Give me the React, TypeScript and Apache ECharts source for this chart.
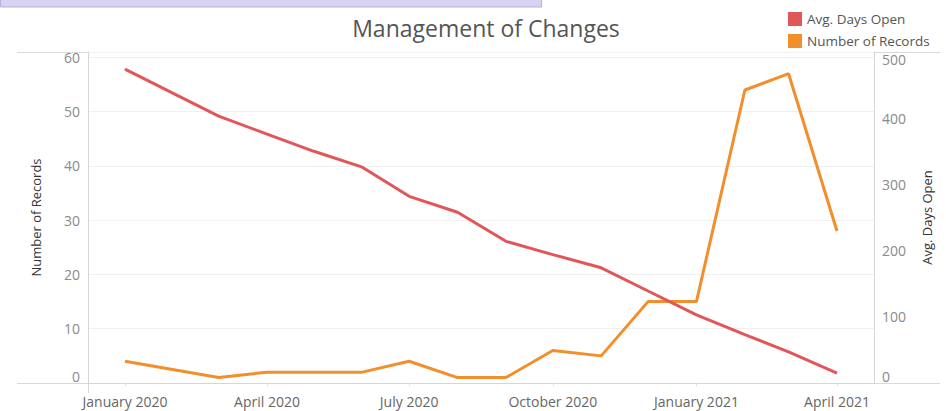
import React, { useEffect, useRef } from "react";
import * as echarts from "echarts";

const months = ["2020-01", "2020-03", "2020-04", "2020-05", "2020-06", "2020-07", "2020-08", "2020-09", "2020-10", "2020-11", "2020-12", "2021-01", "2021-02", "2021-03", "2021-04"];
const numberOfRecords = [4, 1, 2, 2, 2, 4, 1, 1, 6, 5, 15, 15, 54, 57, 28];
const avgDaysOpen = [474, 403, 376, 350, 326, 282, 258, 214, 194, 174, 139, 103, 73, 47, 15];
const monthNames = ["January", "February", "March", "April", "May", "June", "July", "August", "September", "October", "November", "December"];
const leftTicks = [0, 10, 20, 30, 40, 50, 60];

const toTime = (s: string) => {
  const [y, m] = s.split("-").map(Number);
  return new Date(y, m - 1, 1).getTime();
};

export default function App() {
  const ref = useRef<HTMLDivElement>(null);
  useEffect(() => {
    if (!ref.current) return;
    const chart = echarts.init(ref.current, undefined, { renderer: "svg" });
    const font = "'Open Sans', 'Noto Sans', sans-serif";
    chart.setOption({
      animation: false,
      backgroundColor: "#ffffff",
      textStyle: { fontFamily: font },
      title: {
        text: "Management of Changes",
        left: 481,
        top: 11,
        textAlign: "center",
        textStyle: { fontFamily: font, fontSize: 23, fontWeight: "normal", color: "#555555" },
      },
      legend: {
        orient: "vertical",
        left: 783,
        top: 7,
        icon: "rect",
        itemWidth: 14,
        itemHeight: 14,
        itemGap: 8,
        data: ["Avg. Days Open", "Number of Records"],
        textStyle: { fontFamily: font, fontSize: 13.5, color: "#555555", padding: [0, 0, 0, 0] },
      },
      grid: { left: 88, right: 72, top: 52, bottom: 28, containLabel: false },
      xAxis: {
        type: "time",
        min: new Date(2019, 11, 8, 8).getTime(),
        max: new Date(2021, 3, 24, 17).getTime(),
        splitNumber: 5,
        axisLine: { show: true, lineStyle: { color: "#d6d6d6", width: 1 } },
        axisTick: { show: true, length: 3, lineStyle: { color: "#e0e0e0" } },
        splitLine: { show: false },
        axisLabel: {
          fontFamily: font,
          fontSize: 14,
          color: "#666666",
          margin: 11,
          hideOverlap: false,
          formatter: (v: number) => {
            const d = new Date(v);
            return `${monthNames[d.getMonth()]} ${d.getFullYear()}`;
          },
        },
      },
      yAxis: [
        {
          type: "value",
          position: "left",
          min: 0,
          max: 61,
          interval: 10,
          name: "Number of Records",
          nameLocation: "middle",
          nameRotate: 90,
          nameGap: 46,
          nameTextStyle: { fontFamily: font, fontSize: 13, color: "#333333" },
          axisLine: { show: true, lineStyle: { color: "#d6d6d6" } },
          axisTick: { show: false },
          splitLine: { show: true, lineStyle: { color: "#f0f0f0", width: 1 } },
          axisLabel: {
            fontFamily: font,
            fontSize: 14,
            color: "#8a8a8a",
            margin: 8,
            showMaxLabel: false,
            verticalAlignMinLabel: "bottom",
            formatter: (v: number) => (leftTicks.includes(v) ? String(v) : ""),
          },
        },
        {
          type: "value",
          position: "right",
          min: 0,
          max: 500,
          interval: 100,
          name: "Avg. Days Open",
          nameLocation: "middle",
          nameRotate: 90,
          nameGap: 46,
          nameTextStyle: { fontFamily: font, fontSize: 13, color: "#333333" },
          axisLine: { show: true, lineStyle: { color: "#d6d6d6" } },
          axisTick: { show: false },
          splitLine: { show: false },
          axisLabel: {
            fontFamily: font,
            fontSize: 14,
            color: "#8a8a8a",
            margin: 8,
            verticalAlignMinLabel: "bottom",
            verticalAlignMaxLabel: "top",
          },
        },
      ],
      series: [
        {
          name: "Number of Records",
          type: "line",
          yAxisIndex: 0,
          data: months.map((m, i) => [toTime(m), numberOfRecords[i]]),
          showSymbol: false,
          symbol: "none",
          lineStyle: { color: "#f28e2b", width: 3 },
          itemStyle: { color: "#f28e2b" },
        },
        {
          name: "Avg. Days Open",
          type: "line",
          yAxisIndex: 1,
          data: months.map((m, i) => [toTime(m), avgDaysOpen[i]]),
          showSymbol: false,
          symbol: "none",
          lineStyle: { color: "#e15759", width: 3 },
          itemStyle: { color: "#e15759" },
        },
      ],
      graphic: [
        {
          type: "rect",
          shape: { x: 0.5, y: -1, width: 541, height: 8 },
          style: { fill: "#d8d3f1", stroke: "#b9b0e2", lineWidth: 1 },
        },
        {
          type: "line",
          shape: { x1: 17, y1: 52.5, x2: 940, y2: 52.5 },
          style: { stroke: "#d9d9d9", lineWidth: 1 },
        },
        {
          type: "line",
          shape: { x1: 17, y1: 383.5, x2: 940, y2: 383.5 },
          style: { stroke: "#d9d9d9", lineWidth: 1 },
        },
        {
          type: "line",
          shape: { x1: 88.5, y1: 383, x2: 88.5, y2: 393 },
          style: { stroke: "#d9d9d9", lineWidth: 1 },
        },
      ],
    });
    return () => chart.dispose();
  }, []);
  return (
    <div
      ref={ref}
      style={{ position: "fixed", left: 0, top: 0, width: 946, height: 411, background: "#fff" }}
    />
  );
}
